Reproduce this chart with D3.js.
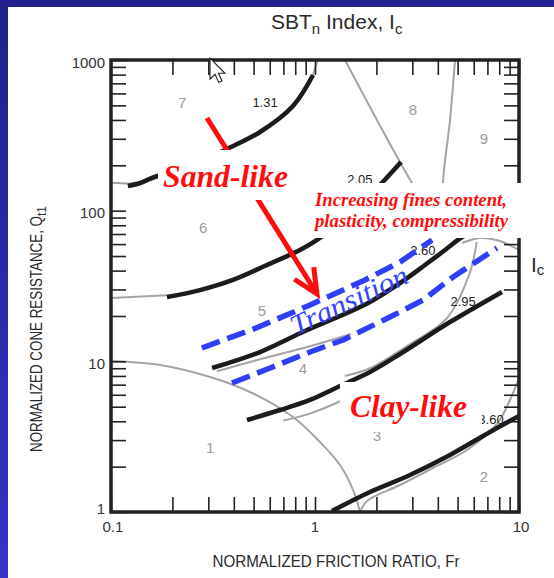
<!DOCTYPE html>
<html>
<head>
<meta charset="utf-8">
<title>SBTn chart</title>
<style>
    body { margin: 0; }
    .frame { fill: none; stroke: #222; stroke-width: 3.5px; }
    .ticks .tick line { stroke: #222; stroke-width: 1.6px; }
    .ticks .domain { display: none; }
    .gray-line { fill: none; stroke: #a4a4a4; stroke-width: 2px; }
    .ic-line { fill: none; stroke: #1c1c1c; stroke-width: 4.6px; }
    .dash-line { fill: none; stroke: #2f3ef7; stroke-width: 5.5px; stroke-dasharray: 19 8; }
    .zone-label { font-family: "Liberation Sans", Arial, sans-serif; font-size: 15px; fill: #9c9c9c; text-anchor: middle; }
    .ic-label { font-family: "Liberation Sans", Arial, sans-serif; font-size: 13px; fill: #222; text-anchor: middle; }
    .tick-label { font-family: "Liberation Sans", Arial, sans-serif; font-size: 15px; fill: #333; }
    .title { font-family: "Liberation Sans", Arial, sans-serif; fill: #2a2a2a; }
    .red-text { font-family: "Liberation Serif", "Times New Roman", serif; font-style: italic; font-weight: bold; fill: #ff0d0d; }
</style>
</head>
<body>
<div class="viz"></div>
<script src="https://cdnjs.cloudflare.com/ajax/libs/d3/7.8.5/d3.min.js"></script>
<script>
var frTicks = [0.1, 1, 10];
var qtTicks = [1, 10, 100, 1000];

// zone numbers (gray) and where they sit
var zoneNames = ["1", "2", "3", "4", "5", "6", "7", "8", "9"];
var zoneFr = [0.306, 6.74, 2.01, 0.873, 0.55, 0.283, 0.223, 3.02, 6.74];
var zoneQt = [2.70, 1.71, 3.24, 9.03, 21.9, 77.9, 526, 466, 299];

// Ic contour labels
var icNames = ["1.31", "2.05", "2.60", "2.95", "3.60"];
var icLabelFr = [0.569, 1.66, 3.38, 5.32, 7.29];
var icLabelQt = [526, 159.8, 54.8, 24.8, 4.08];

// black Ic contours, [Fr, Qt]
var ic131 = [[0.121, 145.8], [0.139, 152.6], [0.159, 164.8], [0.244, 197.9], [0.370, 256.6], [0.538, 332.8], [0.780, 495], [0.978, 795]];
var ic205 = [[0.188, 26.7], [0.273, 29.7], [0.396, 34.7], [0.582, 43.6], [0.844, 54.8], [1.023, 63.9], [1.484, 95.0], [2.083, 148], [2.385, 180.5], [2.64, 210.4]];
var ic260 = [[0.313, 9.03], [0.538, 11.53], [0.893, 15.9], [1.326, 20.0], [1.860, 24.8], [2.61, 33.1], [3.46, 43.6], [4.34, 54.8], [5.02, 63.9], [5.75, 72.2]];
var ic295 = [[0.464, 4.08], [0.674, 4.75], [0.945, 5.54], [1.326, 6.86], [1.860, 8.50], [2.61, 11.19], [4.59, 18.24], [8.25, 28.9]];
var ic360 = [[1.211, 1.015], [1.860, 1.357], [2.922, 1.76], [4.59, 2.39], [7.21, 3.40], [10, 4.34]];

// gray zone boundaries, [Fr, Qt]
var grayZone1 = [[0.1, 10.05], [0.174, 9.46], [0.306, 7.87], [0.480, 6.26], [0.780, 4.27], [1.034, 3.005], [1.326, 2.05], [1.536, 1.40], [1.662, 1]];
var grayZone2 = [[1.662, 1], [1.798, 1.183], [2.61, 1.511], [3.789, 1.959], [5.56, 2.58], [7.80, 3.84], [9.03, 5.54], [10, 7.75]];
var grayEnd131 = [[0.1, 153], [0.14, 150]];
var grayTop131 = [[0.978, 795], [1.03, 1000]];
var grayEnd205 = [[0.1, 26.3], [0.188, 27.5]];
var grayZone8 = [[1.403, 1000], [2.99, 152.6], [4.437, 66.9]];
var grayZone9 = [[4.857, 1000], [4.59, 400], [4.242, 152.6], [4.3, 110]];
var grayArc = [[5.255, 61.0], [6.44, 65.9], [8.07, 62.9], [10, 54.8]];
var grayZone45 = [[0.33, 8.6], [0.55, 10.4], [0.945, 12.6], [1.5, 15.2]];
var grayZone34 = [[0.70, 4.05], [0.945, 4.5], [1.4, 5.6]];
var grayZone3 = [[1.40, 8.0], [1.86, 9.0], [2.76, 12.4], [4.44, 19.4], [5.75, 39], [6.2, 62]];

// transition band (blue dashes)
var dashUpper = [[0.279, 12.26], [0.514, 16.64], [0.945, 23.65], [1.759, 34.7], [2.61, 45.6], [3.75, 63.9]];
var dashLower = [[0.392, 7.18], [0.602, 9.03], [0.945, 11.53], [1.372, 13.86], [2.331, 19.69], [3.383, 25.5], [4.749, 36.3], [7.80, 56.5]];

// red arrow, [Fr, Qt]
var arrowFrom = [0.2955, 412];
var arrowTo = [1.023, 28.0];

var W = 554, H = 578;
var margin = {top: 60, right: 35, bottom: 66, left: 111};

var svg = d3.select('.viz').append('svg')
    .attr('width', W)
    .attr('height', H);

var defs = svg.append('defs');
var grad = defs.append('linearGradient')
    .attr('id', 'bg')
    .attr('x1', 0).attr('y1', 0).attr('x2', 0.15).attr('y2', 1);
grad.append('stop').attr('offset', '0%').attr('stop-color', '#20208a');
grad.append('stop').attr('offset', '100%').attr('stop-color', '#3434cc');

svg.append('rect').attr('width', W).attr('height', H).attr('fill', 'url(#bg)');
svg.append('rect').attr('x', 8).attr('y', 7).attr('width', W - 8).attr('height', H - 7).attr('fill', '#fff');

var x = d3.scaleLog().domain([0.1, 10]).range([margin.left, W - margin.right]);
var y = d3.scaleLog().domain([1, 1000]).range([H - margin.bottom, margin.top]);

var line = d3.line()
    .x(function (d) { return x(d[0]); })
    .y(function (d) { return y(d[1]); })
    .curve(d3.curveCatmullRom.alpha(0.5));

var straight = d3.line()
    .x(function (d) { return x(d[0]); })
    .y(function (d) { return y(d[1]); });

var plot = svg.append('g');

// gray boundaries
[grayZone1, grayZone2, grayEnd131, grayTop131, grayEnd205, grayZone8, grayZone9, grayArc, grayZone45, grayZone34, grayZone3]
    .forEach(function (pts) {
        plot.append('path').datum(pts).attr('class', 'gray-line').attr('d', line);
    });

// Ic contours
[ic131, ic205, ic260, ic295, ic360].forEach(function (pts) {
    plot.append('path').datum(pts).attr('class', 'ic-line').attr('d', line);
});

// ticks on all four sides, pointing inward
var tickSize = 15;
svg.append('g').attr('class', 'ticks')
    .attr('transform', 'translate(' + x.range()[0] + ',0)')
    .call(d3.axisLeft(y).tickValues(y.ticks()).tickSize(-tickSize).tickFormat(''));
svg.append('g').attr('class', 'ticks')
    .attr('transform', 'translate(' + x.range()[1] + ',0)')
    .call(d3.axisRight(y).tickValues(y.ticks()).tickSize(-tickSize).tickFormat(''));
svg.append('g').attr('class', 'ticks')
    .attr('transform', 'translate(0,' + y.range()[1] + ')')
    .call(d3.axisTop(x).tickValues(x.ticks()).tickSize(-tickSize).tickFormat(''));
svg.append('g').attr('class', 'ticks')
    .attr('transform', 'translate(0,' + y.range()[0] + ')')
    .call(d3.axisBottom(x).tickValues(x.ticks()).tickSize(-tickSize).tickFormat(''));

svg.append('rect').attr('class', 'frame')
    .attr('x', x.range()[0]).attr('y', y.range()[1])
    .attr('width', x.range()[1] - x.range()[0])
    .attr('height', y.range()[0] - y.range()[1]);

// tick labels
svg.selectAll('.qt-label').data(qtTicks).enter().append('text')
    .attr('class', 'tick-label')
    .attr('text-anchor', 'end')
    .attr('x', x.range()[0] - 6)
    .attr('y', function (d) { return y(d) + (d === 1 ? -4 : 2); })
    .attr('dominant-baseline', 'central')
    .text(function (d) { return d; });

svg.selectAll('.fr-label').data(frTicks).enter().append('text')
    .attr('class', 'tick-label')
    .attr('text-anchor', 'middle')
    .attr('x', function (d, i) { return x(d) + (i === 1 ? 0 : 2); })
    .attr('y', y.range()[0] + 14)
    .attr('dominant-baseline', 'central')
    .text(function (d) { return d; });

// zone numbers
svg.selectAll('.zone-label').data(zoneNames).enter().append('text')
    .attr('class', 'zone-label')
    .attr('x', function (d, i) { return x(zoneFr[i]); })
    .attr('y', function (d, i) { return y(zoneQt[i]); })
    .attr('dominant-baseline', 'central')
    .text(function (d) { return d; });

// Ic labels
svg.selectAll('.ic-label').data(icNames).enter().append('text')
    .attr('class', 'ic-label')
    .attr('x', function (d, i) { return x(icLabelFr[i]); })
    .attr('y', function (d, i) { return y(icLabelQt[i]); })
    .attr('dominant-baseline', 'central')
    .text(function (d) { return d; });

// transition band
[dashUpper, dashLower].forEach(function (pts) {
    svg.append('path').datum(pts).attr('class', 'dash-line').attr('d', straight);
});

svg.append('text')
    .attr('transform', 'translate(' + x(1.468) + ',' + y(25.5) + ') rotate(-25)')
    .attr('text-anchor', 'middle')
    .attr('dominant-baseline', 'central')
    .attr('textLength', 127)
    .attr('lengthAdjust', 'spacingAndGlyphs')
    .style('font-family', '"Liberation Serif", "Times New Roman", serif')
    .style('font-style', 'italic')
    .style('font-size', '28px')
    .style('fill', '#3344ff')
    .text('Transition');

// red arrow
var ax0 = x(arrowFrom[0]), ay0 = y(arrowFrom[1]);
var ax1 = x(arrowTo[0]), ay1 = y(arrowTo[1]);
var ang = Math.atan2(ay0 - ay1, ax0 - ax1);
var armLen = 27, armAng = 25 * Math.PI / 180;
svg.append('path')
    .attr('d', 'M' + ax0 + ',' + ay0 + 'L' + ax1 + ',' + ay1 +
        'M' + (ax1 + armLen * Math.cos(ang - armAng)) + ',' + (ay1 + armLen * Math.sin(ang - armAng)) +
        'L' + ax1 + ',' + ay1 +
        'L' + (ax1 + armLen * Math.cos(ang + armAng)) + ',' + (ay1 + armLen * Math.sin(ang + armAng)))
    .attr('fill', 'none')
    .attr('stroke', '#ff0d0d')
    .attr('stroke-width', 5);

// annotation boxes
function box(px, py, w, h) {
    svg.append('rect').attr('x', px).attr('y', py).attr('width', w).attr('height', h).attr('fill', '#fff');
}

var sx = x(0.1799), sy = y(143.6);
box(sx - 5, sy - 37, 135, 50);
svg.append('text').attr('class', 'red-text')
    .attr('x', sx).attr('y', sy)
    .attr('textLength', 125).attr('lengthAdjust', 'spacingAndGlyphs')
    .style('font-size', '32px')
    .text('Sand-like');

var ix = x(1.0), iy = y(107.4);
box(ix - 2, iy - 23, 210, 55);
svg.append('text').attr('class', 'red-text')
    .attr('x', ix).attr('y', iy)
    .attr('textLength', 192).attr('lengthAdjust', 'spacingAndGlyphs')
    .style('font-size', '18.5px')
    .text('Increasing fines content,');
svg.append('text').attr('class', 'red-text')
    .attr('x', ix).attr('y', iy + 21)
    .attr('textLength', 193).attr('lengthAdjust', 'spacingAndGlyphs')
    .style('font-size', '18.5px')
    .text('plasticity, compressibility');

var cx = x(1.484), cy = y(4.27);
box(cx - 10, cy - 35, 142, 50);
svg.append('text').attr('class', 'red-text')
    .attr('x', cx).attr('y', cy)
    .attr('textLength', 117).attr('lengthAdjust', 'spacingAndGlyphs')
    .style('font-size', '31px')
    .text('Clay-like');

// titles
var title = svg.append('text').attr('class', 'title')
    .attr('x', 271).attr('y', 29)
    .style('font-size', '21px');
title.append('tspan').text('SBT');
title.append('tspan').attr('dy', 5).style('font-size', '15px').text('n');
title.append('tspan').attr('dy', -5).text(' Index, I');
title.append('tspan').attr('dy', 5).style('font-size', '15px').text('c');

var ic = svg.append('text').attr('class', 'title')
    .attr('x', 531).attr('y', 272)
    .style('font-size', '21px');
ic.append('tspan').text('I');
ic.append('tspan').attr('dy', 3).style('font-size', '15px').text('c');

svg.append('text').attr('class', 'title')
    .attr('x', 336).attr('y', 567)
    .attr('text-anchor', 'middle')
    .attr('textLength', 247).attr('lengthAdjust', 'spacingAndGlyphs')
    .style('font-size', '17px')
    .text('NORMALIZED FRICTION RATIO, Fr');

var yt = svg.append('text').attr('class', 'title')
    .attr('transform', 'translate(42,452) rotate(-90)')
    .style('font-size', '17px');
yt.append('tspan').attr('textLength', 236).attr('lengthAdjust', 'spacingAndGlyphs')
    .text('NORMALIZED CONE RESISTANCE, Q');
yt.append('tspan').attr('dy', 4).style('font-size', '12px').text('t1');

// mouse pointer left in the screenshot
svg.append('path')
    .attr('transform', 'translate(210,58) scale(1.25)')
    .attr('d', 'M0,0L0,17L4,13L7,19.5L9.6,18.4L6.8,12.2L12,12.2Z')
    .attr('fill', '#fff')
    .attr('stroke', '#222')
    .attr('stroke-width', 0.9);
</script>
</body>
</html>
